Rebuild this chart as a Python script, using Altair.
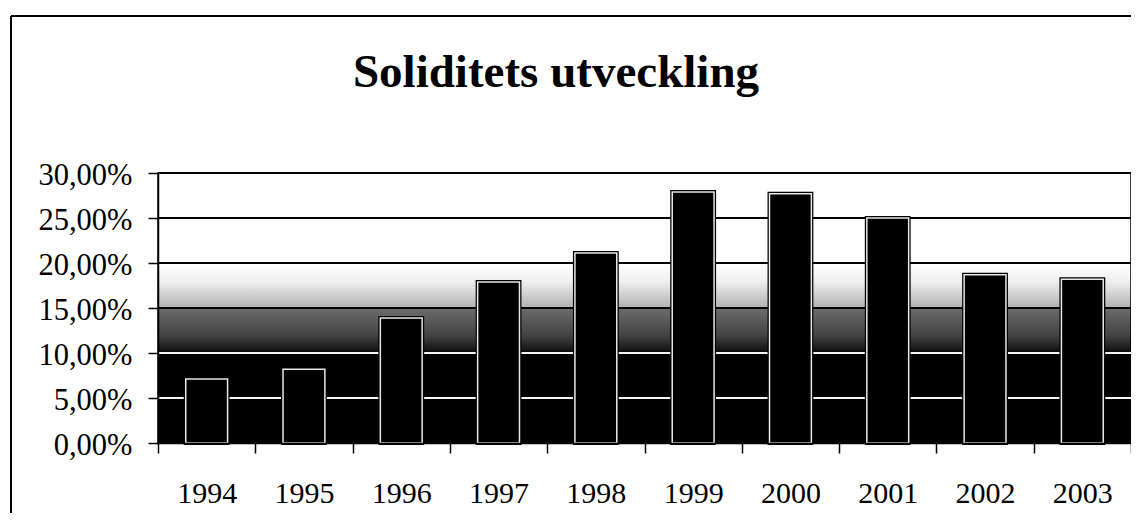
import altair as alt
import pandas as pd

# ---- data ----
years = ["1994", "1995", "1996", "1997", "1998", "1999", "2000", "2001", "2002", "2003"]
solidity = [0.071, 0.082, 0.139, 0.179, 0.211, 0.279, 0.277, 0.250, 0.187, 0.182]
y_ticks = [0.0, 0.05, 0.10, 0.15, 0.20, 0.25, 0.30]
title_text = "Soliditets utveckling"

W, H = 973, 270
FONT = "Liberation Serif"

bars_df = pd.DataFrame({"year": years, "value": solidity})
grid_df = pd.DataFrame({"tick": y_ticks})
one = pd.DataFrame({"a": [0]})

x_enc = alt.X(
    "year:N",
    sort=years,
    scale=alt.Scale(paddingInner=0, paddingOuter=0),
    axis=alt.Axis(
        title=None,
        tickBand="extent",
        tickSize=10,
        tickColor="black",
        tickWidth=1.5,
        domainColor="black",
        domainWidth=1.5,
        labelFont=FONT,
        labelFontSize=30,
        labelColor="black",
        labelPadding=25,
        labelAngle=0,
        zindex=1,
    ),
)

y_axis = alt.Axis(
    title=None,
    values=y_ticks,
    grid=False,
    tickSize=10,
    tickColor="black",
    tickWidth=1.5,
    domainColor="black",
    domainWidth=1.5,
    labelFont=FONT,
    labelFontSize=30.5,
    labelColor="black",
    labelPadding=16,
    labelOffset=2,
    labelExpr="replace(format(datum.value, '.2%'), '.', ',')",
    zindex=1,
)
y_scale = alt.Scale(domain=[0, 0.30], nice=False)

gradient = alt.Gradient(
    gradient="linear",
    x1=0, x2=0, y1=0, y2=1,
    stops=[
        alt.GradientStop(color="#ffffff", offset=0.0),
        alt.GradientStop(color="#ffffff", offset=0.333),
        alt.GradientStop(color="#f0f0f0", offset=0.40),
        alt.GradientStop(color="#b4b4b4", offset=0.495),
        alt.GradientStop(color="#6a6a6a", offset=0.505),
        alt.GradientStop(color="#444444", offset=0.60),
        alt.GradientStop(color="#161616", offset=0.655),
        alt.GradientStop(color="#000000", offset=0.668),
        alt.GradientStop(color="#000000", offset=1.0),
    ],
)

background = alt.Chart(one).mark_rect(fill=gradient, stroke="black", strokeWidth=1.5).encode(
    x=alt.value(0), x2=alt.value(W), y=alt.value(0), y2=alt.value(H)
)

grid = alt.Chart(grid_df).mark_rule(strokeWidth=2).encode(
    y=alt.Y("tick:Q", scale=y_scale, axis=y_axis),
    x=alt.value(0),
    x2=alt.value(W),
    color=alt.condition("datum.tick <= 0.1 && datum.tick > 0", alt.value("#f4f4f4"), alt.value("black")),
)

bar_w = alt.RelativeBandSize(band=0.43)

bars_outer = alt.Chart(bars_df).mark_bar(fill="black", stroke="black", strokeWidth=4, width=bar_w).encode(
    x=x_enc,
    y=alt.Y("value:Q", scale=y_scale, axis=y_axis),
)

bars_inner = alt.Chart(bars_df).mark_bar(fill="black", stroke="#e8e8e8", strokeWidth=1.5, width=bar_w).encode(
    x=x_enc,
    y=alt.Y("value:Q", scale=y_scale, axis=y_axis),
)

title = alt.Chart(one).mark_text(
    text=title_text, font=FONT, fontSize=47, fontWeight="bold", color="black",
    align="center", baseline="alphabetic",
).encode(x=alt.value(398), y=alt.value(-86))

frame_left = alt.Chart(one).mark_rule(color="black", strokeWidth=2).encode(
    x=alt.value(-147), y=alt.value(-157), y2=alt.value(H + 120)
)
frame_top = alt.Chart(one).mark_rule(color="black", strokeWidth=2).encode(
    x=alt.value(-147), x2=alt.value(W + 20), y=alt.value(-157)
)

chart = alt.layer(
    background, grid, bars_outer, bars_inner, title, frame_left, frame_top
).properties(
    width=W,
    height=H,
    autosize=alt.AutoSizeParams(type="none"),
    padding={"left": 150, "top": 165, "right": 0, "bottom": 70},
).configure_view(stroke=None).configure(background="white")

chart.save("out.html", embed_options={"renderer": "svg", "actions": False})
